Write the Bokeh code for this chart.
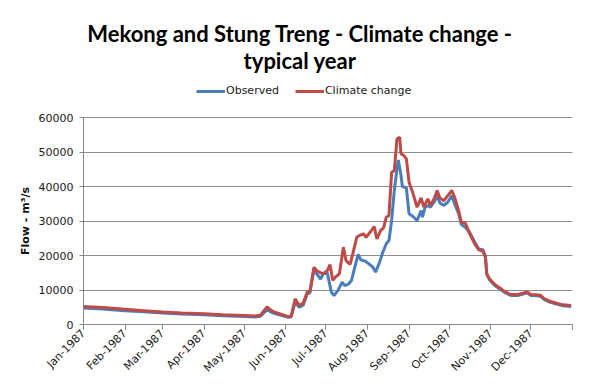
from datetime import datetime
from math import pi
from bokeh.plotting import figure
from bokeh.models import (Range1d, FixedTicker, DatetimeTickFormatter, Legend,
                          LegendItem, Label, Title, ColumnDataSource)
from bokeh.embed import file_html
from bokeh.resources import INLINE

YEAR = 1987

obs_dates = ["01-01", "01-15", "02-01", "02-15", "03-01", "03-15", "04-01", "04-15",
             "05-01", "05-09", "05-13", "05-18", "05-21", "05-25", "05-30", "06-03",
             "06-05", "06-08", "06-11", "06-14", "06-17", "06-19", "06-22", "06-24",
             "06-27", "06-29", "07-02", "07-05", "07-07", "07-10", "07-13", "07-15",
             "07-18", "07-20", "07-22", "07-25", "07-27", "07-30", "08-02", "08-05",
             "08-07", "08-10", "08-12", "08-15", "08-17", "08-19", "08-21", "08-23",
             "08-24", "08-26", "08-27", "08-30", "09-01", "09-04", "09-07", "09-10",
             "09-11", "09-13", "09-15", "09-17", "09-20", "09-22", "09-24", "09-27",
             "09-30", "10-03", "10-05", "10-08", "10-10", "10-13", "10-16", "10-20",
             "10-23", "10-26", "10-28", "10-29", "10-31", "11-04", "11-08", "11-11",
             "11-16", "11-21", "11-25", "11-28", "12-01", "12-05", "12-08", "12-11",
             "12-15", "12-20", "12-25", "12-31"]
obs_flow = [4800, 4500, 4000, 3700, 3300, 3050, 2800, 2550,
            2350, 2200, 2400, 4300, 3600, 3000, 2500, 2100,
            2200, 6500, 5000, 5600, 8900, 9200, 15900, 14700,
            13200, 14700, 14900, 9400, 8400, 9900, 12300, 11300,
            11800, 12750, 15850, 20300, 18750, 18400, 17600, 16600,
            15200, 18060, 20500, 23400, 24350, 30150, 38850, 45100,
            47700, 43200, 40000, 39600, 32100, 31300, 30150, 33000,
            31100, 34000, 34500, 34000, 35700, 37400, 35200, 34500,
            35500, 37400, 35000, 32100, 29000, 28200, 26800, 23900,
            21900, 21700, 19800, 14600, 13000, 11300, 10200, 9400,
            8400, 8400, 8800, 9200, 8400, 8300, 8200, 7200,
            6500, 5900, 5450, 5250]

cc_dates = ["01-01", "01-15", "02-01", "02-15", "03-01", "03-15", "04-01", "04-15",
            "05-01", "05-09", "05-13", "05-18", "05-21", "05-25", "05-30", "06-03",
            "06-05", "06-08", "06-11", "06-14", "06-17", "06-19", "06-22", "06-24",
            "06-26", "06-29", "07-02", "07-04", "07-06", "07-08", "07-11", "07-14",
            "07-16", "07-19", "07-21", "07-24", "07-26", "07-29", "07-31", "08-03",
            "08-06", "08-08", "08-11", "08-13", "08-15", "08-17", "08-19", "08-21",
            "08-23", "08-25", "08-26", "08-28", "08-30", "09-01", "09-04", "09-07",
            "09-10", "09-12", "09-15", "09-17", "09-20", "09-22", "09-24", "09-27",
            "09-30", "10-03", "10-05", "10-08", "10-10", "10-13", "10-16", "10-20",
            "10-23", "10-26", "10-28", "10-29", "10-31", "11-04", "11-08", "11-11",
            "11-16", "11-21", "11-25", "11-28", "12-01", "12-05", "12-08", "12-11",
            "12-15", "12-20", "12-25", "12-31"]
cc_flow = [5200, 4900, 4400, 4000, 3600, 3350, 3100, 2850,
           2600, 2450, 2700, 5100, 4100, 3400, 2800, 2300,
           2400, 7450, 5500, 6200, 9400, 9600, 16600, 15600,
           15200, 14700, 15600, 17400, 12800, 13700, 14700, 22400,
           18500, 17400, 20500, 25300, 25800, 26300, 25300, 26800,
           28400, 24800, 27400, 28000, 31100, 31600, 44100, 44600,
           53800, 54300, 49500, 49000, 48000, 41250, 37900, 34000,
           36700, 34000, 36400, 34500, 36700, 38850, 36700, 35900,
           37400, 38850, 36900, 33000, 29650, 29400, 26600, 23400,
           21650, 21250, 19500, 14700, 13240, 11600, 10500, 9650,
           8700, 8700, 9070, 9470, 8700, 8600, 8500, 7450,
           6750, 6170, 5700, 5500]

y_ticks = [0, 10000, 20000, 30000, 40000, 50000, 60000]
title_lines = ["Mekong and Stung Treng - Climate change -", "typical year"]
series_names = ["Observed", "Climate change"]
y_label = "Flow - m³/s"

def to_dt(md):
    m, d = md.split("-")
    return datetime(YEAR, int(m), int(d))

def ms(dt):
    return (dt - datetime(1970, 1, 1)).total_seconds() * 1000.0

obs_src = ColumnDataSource(dict(x=[to_dt(s) for s in obs_dates], y=obs_flow))
cc_src = ColumnDataSource(dict(x=[to_dt(s) for s in cc_dates], y=cc_flow))

# layout (pixels inside the 600x392 figure)
W, H = 600, 392
FRAME_LEFT, FRAME_RIGHT = 83, 572
FRAME_TOP = 0          # frame reaches the top so the title/legend live inside it
PLOT_TOP = 117         # where 60000 sits
PLOT_BOTTOM = 324      # where 0 sits
Y_MAX = y_ticks[-1]
px_per_unit = (PLOT_BOTTOM - PLOT_TOP) / Y_MAX
y_end = Y_MAX + (PLOT_TOP - FRAME_TOP) / px_per_unit

p = figure(width=W, height=H, x_axis_type="datetime",
           output_backend="svg", toolbar_location=None,
           min_border_left=FRAME_LEFT, min_border_right=W - FRAME_RIGHT,
           min_border_top=FRAME_TOP, min_border_bottom=H - PLOT_BOTTOM)
p.x_range = Range1d(datetime(YEAR, 1, 1), datetime(YEAR + 1, 1, 1))
p.y_range = Range1d(0, y_end)
p.outline_line_color = None
p.background_fill_color = "white"
p.border_fill_color = "white"

blue = "#4A7EBB"
red = "#BE4B48"
r_obs = p.line("x", "y", source=obs_src, line_color=blue, line_width=3)
r_cc = p.line("x", "y", source=cc_src, line_color=red, line_width=3)

month_ticks = [ms(datetime(YEAR, m, 1)) for m in range(1, 13)]
bounds = month_ticks + [ms(datetime(YEAR + 1, 1, 1))]
p.xaxis.ticker = FixedTicker(ticks=month_ticks, minor_ticks=bounds)
p.xaxis.formatter = DatetimeTickFormatter(months="%b-%Y", days="%b-%Y")
p.xaxis.major_label_orientation = pi / 4
p.xaxis.major_tick_in = 0
p.xaxis.major_tick_out = 5
p.xaxis.minor_tick_in = 0
p.xaxis.minor_tick_out = 5
p.xaxis.major_label_standoff = 2

p.yaxis.ticker = FixedTicker(ticks=y_ticks)
p.yaxis.bounds = (0, Y_MAX)
p.yaxis.major_tick_in = 0
p.yaxis.major_tick_out = 4
p.yaxis.major_label_standoff = 6

for ax in (p.xaxis, p.yaxis):
    ax.axis_line_color = "#868686"
    ax.major_tick_line_color = "#868686"
    ax.minor_tick_line_color = "#868686"
    ax.major_label_text_font = "DejaVu Sans"
    ax.major_label_text_font_size = "11px"
    ax.major_label_text_color = "#1a1a1a"
p.yaxis.minor_tick_line_color = None

# y-axis title, centred on the 0..60000 span rather than on the taller frame
label_len = 68
label_offset = (PLOT_BOTTOM - PLOT_TOP) / 2 - label_len / 2
p.add_layout(Title(text=y_label, align="left", vertical_align="middle",
                   offset=label_offset, standoff=5,
                   text_font="DejaVu Sans", text_font_style="bold",
                   text_font_size="11px", text_color="#111111"), "left")

p.xgrid.grid_line_color = None
p.ygrid.grid_line_color = "#8c8c8c"
p.ygrid.ticker = FixedTicker(ticks=y_ticks)

legend = Legend(items=[LegendItem(label=series_names[0], renderers=[r_obs]),
                       LegendItem(label=series_names[1], renderers=[r_cc])],
                location=(196 - FRAME_LEFT, PLOT_BOTTOM - 97), orientation="horizontal",
                glyph_width=29, glyph_height=12, label_height=12,
                label_standoff=1, spacing=16, padding=0, margin=0,
                border_line_color=None, background_fill_alpha=0,
                label_text_font="DejaVu Sans", label_text_font_size="11px",
                label_text_color="#1a1a1a")
p.add_layout(legend, "center")

for txt, base in zip(title_lines, (33.3, 60)):
    p.add_layout(Label(x=299.5 - FRAME_LEFT, y=PLOT_BOTTOM - base,
                       x_units="screen", y_units="screen",
                       text=txt, text_font="Lato", text_font_style="bold",
                       text_font_size="22px", text_align="center",
                       text_baseline="alphabetic", text_color="#000000"))

open("out.html", "w").write(file_html(p, INLINE))
